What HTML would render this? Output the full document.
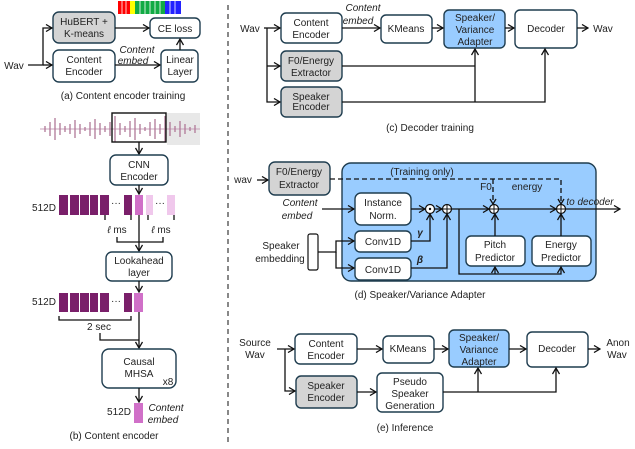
<!DOCTYPE html>
<html><head><meta charset="utf-8"><style>
html,body{margin:0;padding:0;background:#fff;}
svg{display:block;font-family:"Liberation Sans",sans-serif;}
text{font-size:10px;fill:#222;}
.b{fill:#fff;stroke:#1f3d4f;stroke-width:1.4;}
.g{fill:#d4d4d4;stroke:#1f3d4f;stroke-width:1.4;}
.bl{fill:#99ccff;stroke:#1f3d4f;stroke-width:1.4;}
.l{stroke:#111;stroke-width:1.3;fill:none;}
.i{font-style:italic;}
</style></head><body>
<svg width="635" height="449" viewBox="0 0 635 449">
<defs><marker id="a" markerWidth="8" markerHeight="8" refX="7" refY="4" orient="auto" markerUnits="userSpaceOnUse"><path d="M1,0.5 L7,4 L1,7.5" fill="none" stroke="#111" stroke-width="1.3"/></marker></defs>
<g text-anchor="middle">
<!-- (a) -->
<rect x="118" y="1" width="4" height="13" fill="#f00"/><rect x="122" y="1" width="4" height="13" fill="#f00"/><rect x="126" y="1" width="4" height="13" fill="#f00"/>
<rect x="130" y="1" width="5" height="13" fill="#ff0"/>
<rect x="135" y="1" width="30" height="13" fill="#1a4"/>
<rect x="165" y="1" width="16" height="13" fill="#22f"/>
<path d="M122,1V14M126,1V14M140,1V14M145,1V14M150,1V14M155,1V14M160,1V14M170,1V14M175,1V14" stroke="#fff" stroke-width="0.8"/>
<rect class="g" x="53" y="12" width="62" height="31" rx="6"/><text x="84" y="25">HuBERT +</text><text x="84" y="37">K-means</text>
<rect class="b" x="53" y="50" width="62" height="32" rx="6"/><text x="84" y="63">Content</text><text x="84" y="75">Encoder</text>
<rect class="b" x="150" y="18" width="50" height="20" rx="5"/><text x="175" y="32">CE loss</text>
<rect class="b" x="161" y="50" width="37" height="32" rx="5"/><text x="180" y="63">Linear</text><text x="180" y="75">Layer</text>
<text x="14" y="69">Wav</text>
<path class="l" d="M28,65H43V28H52" marker-end="url(#a)"/><path class="l" d="M43,65H52" marker-end="url(#a)"/>
<path class="l" d="M115,28H149" marker-end="url(#a)"/><path class="l" d="M115,65H160" marker-end="url(#a)"/>
<path class="l" d="M180,50V39" marker-end="url(#a)"/>
<text class="i" x="137" y="53">Content</text><text class="i" x="133" y="64">embed</text>
<text x="123" y="99">(a) Content encoder training</text>
<!-- (b) -->
<rect x="167" y="113" width="33" height="32" fill="#e8e8e8"/>
<path d="M40,129H200" stroke="#c8a0b8" stroke-width="1"/>
<g stroke="#b07898" stroke-width="1.3">
<path d="M45,126V132M50,122V136M55,118V140M60,123V135M65,126V132M70,124V134M75,120V138M80,124V134M85,127V131M90,122V136M95,119V139M100,123V135M105,126V132M110,122V136M115,116V142M120,123V135M125,126V132M130,121V137M135,118V140M140,124V134M145,127V131M150,122V136M155,119V139M160,124V134M165,116V142M170,122V136M175,126V132M180,121V137M185,124V134M190,127V131M195,125V133"/>
</g>
<rect x="112" y="113" width="54" height="29" fill="none" stroke="#111" stroke-width="1.4"/>
<path class="l" d="M139,142V154" marker-end="url(#a)"/>
<rect class="b" x="110" y="155" width="58" height="30" rx="6"/><text x="139" y="168">CNN</text><text x="139" y="180">Encoder</text>
<path class="l" d="M139,185V194" marker-end="url(#a)"/>
<text x="44" y="211">512D</text>
<g fill="#7a1f6a"><rect x="59" y="195" width="9" height="20"/><rect x="70" y="195" width="9" height="20"/><rect x="80" y="195" width="9" height="20"/><rect x="90" y="195" width="8" height="20"/><rect x="100" y="195" width="9" height="20"/><rect x="124" y="195" width="8" height="20"/></g>
<rect x="135" y="195" width="8" height="20" fill="#d070c8"/><rect x="146" y="195" width="7" height="20" fill="#f0c8ec"/><rect x="167" y="195" width="8" height="20" fill="#f0c8ec"/>
<text x="116" y="206">···</text><text x="160" y="206">···</text>
<path class="l" d="M105,215V220M131,215V220M148,215V220M174,215V220" stroke-width="1"/>
<text x="117" y="233"><tspan class="i">ℓ</tspan> ms</text><text x="161" y="233"><tspan class="i">ℓ</tspan> ms</text>
<path class="l" d="M117,237V242H163V237" stroke-width="1"/>
<path class="l" d="M139,215V251" marker-end="url(#a)"/>
<rect class="b" x="106" y="252" width="66" height="29" rx="6"/><text x="139" y="264">Lookahead</text><text x="139" y="276">layer</text>
<path class="l" d="M139,281V292" marker-end="url(#a)"/>
<text x="44" y="305">512D</text>
<g fill="#7a1f6a"><rect x="59" y="293" width="9" height="19"/><rect x="70" y="293" width="9" height="19"/><rect x="80" y="293" width="9" height="19"/><rect x="90" y="293" width="8" height="19"/><rect x="100" y="293" width="9" height="19"/><rect x="124" y="293" width="8" height="19"/></g>
<rect x="134" y="293" width="9" height="19" fill="#d070c8"/>
<text x="116" y="304">···</text>
<path class="l" d="M59,316V320H131V316" stroke-width="1"/>
<text x="99" y="330">2 sec</text>
<path class="l" d="M100,333V340H139"/>
<path class="l" d="M139,312V348" marker-end="url(#a)"/>
<rect class="b" x="102" y="349" width="74" height="39" rx="7"/><text x="139" y="365">Causal</text><text x="139" y="377">MHSA</text><text x="168" y="385" font-size="8">x8</text>
<path class="l" d="M139,388V402" marker-end="url(#a)"/>
<rect x="134" y="403" width="9" height="20" fill="#d070c8"/>
<text x="119" y="415">512D</text>
<text class="i" x="166" y="411">Content</text><text class="i" x="163" y="423">embed</text>
<text x="114" y="439">(b) Content encoder</text>
<path d="M228,5V445" stroke="#111" stroke-width="1" stroke-dasharray="5,4"/>
<!-- (c) -->
<text x="250" y="32">Wav</text>
<rect class="b" x="281" y="13" width="61" height="30" rx="5"/><text x="311" y="26">Content</text><text x="311" y="38">Encoder</text>
<rect class="g" x="281" y="51" width="61" height="30" rx="5"/><text x="311" y="64">F0/Energy</text><text x="311" y="76">Extractor</text>
<rect class="g" x="281" y="87" width="61" height="30" rx="5"/><text x="311" y="100">Speaker</text><text x="311" y="110">Encoder</text>
<rect class="b" x="381" y="15" width="51" height="28" rx="5"/><text x="406" y="32">KMeans</text>
<rect class="bl" x="444" y="10" width="61" height="38" rx="5"/><text x="475" y="21">Speaker/</text><text x="475" y="33">Variance</text><text x="475" y="45">Adapter</text>
<rect class="b" x="515" y="10" width="62" height="38" rx="5"/><text x="546" y="32">Decoder</text>
<text x="603" y="32">Wav</text>
<path class="l" d="M264,28H280" marker-end="url(#a)"/><path class="l" d="M267,28V102H280" marker-end="url(#a)"/><path class="l" d="M267,66H280" marker-end="url(#a)"/>
<path class="l" d="M342,28H380" marker-end="url(#a)"/><path class="l" d="M432,28H443" marker-end="url(#a)"/><path class="l" d="M505,28H514" marker-end="url(#a)"/><path class="l" d="M577,28H588" marker-end="url(#a)"/>
<text class="i" x="363" y="11">Content</text><text class="i" x="358" y="24">embed</text>
<path class="l" d="M342,66H475"/><path class="l" d="M342,102H545V49" marker-end="url(#a)"/><path class="l" d="M475,102V49" marker-end="url(#a)"/>
<text x="430" y="131">(c) Decoder training</text>
<!-- (d) -->
<rect x="342" y="163" width="254" height="118" rx="9" fill="#99ccff" stroke="#1f3d4f" stroke-width="1.4"/>
<text x="243" y="183">wav</text><path class="l" d="M257,180H268" marker-end="url(#a)"/>
<rect class="g" x="269" y="162" width="61" height="33" rx="6"/><text x="299" y="175">F0/Energy</text><text x="299" y="188">Extractor</text>
<text x="422" y="175">(Training only)</text>
<path d="M330,179H561V203M493,179V203" stroke="#111" stroke-width="1.3" fill="none" stroke-dasharray="5,3"/>
<path class="l" d="M490,199L493,204L496,199M558,199L561,204L564,199"/>
<text x="486" y="190">F0</text><text x="527" y="190">energy</text>
<text class="i" x="300" y="206">Content</text><text class="i" x="297" y="219">embed</text>
<path class="l" d="M322,209H354" marker-end="url(#a)"/>
<rect class="b" x="355" y="193" width="56" height="32" rx="6"/><text x="383" y="206">Instance</text><text x="383" y="219">Norm.</text>
<path class="l" d="M411,209H425" marker-end="url(#a)"/>
<circle cx="430" cy="209" r="4.5" fill="#fff" stroke="#111" stroke-width="1.2"/><circle cx="430" cy="209" r="1.2" fill="#111"/>
<path class="l" d="M434,209H442" marker-end="url(#a)"/>
<g fill="#fff" stroke="#111" stroke-width="1.2"><circle cx="447" cy="209" r="4.5"/><circle cx="494" cy="209" r="4.5"/><circle cx="561" cy="209" r="4.5"/></g>
<path d="M442.5,209H451.5M447,204.5V213.5M489.5,209H498.5M494,204.5V213.5M556.5,209H565.5M561,204.5V213.5" stroke="#111" stroke-width="1"/>
<path class="l" d="M451,209H489" marker-end="url(#a)"/><path class="l" d="M498,209H556" marker-end="url(#a)"/><path class="l" d="M565,209H620" marker-end="url(#a)"/>
<text class="i" x="590" y="205">to decoder</text>
<rect class="b" x="355" y="231" width="56" height="21" rx="5"/><text x="383" y="245">Conv1D</text>
<rect class="b" x="355" y="258" width="56" height="22" rx="5"/><text x="383" y="273">Conv1D</text>
<text x="420" y="236" class="i" font-weight="bold">γ</text><text x="420" y="263" class="i" font-weight="bold">β</text>
<path class="l" d="M411,241H430V214" marker-end="url(#a)"/><path class="l" d="M411,268H447V214" marker-end="url(#a)"/>
<rect x="308" y="234" width="10" height="36" rx="2" fill="#fff" stroke="#111" stroke-width="1.2"/>
<text x="281" y="249">Speaker</text><text x="280" y="262">embedding</text>
<path class="l" d="M318,252H336V241H354" marker-end="url(#a)"/><path class="l" d="M336,252V268H354" marker-end="url(#a)"/>
<rect class="b" x="466" y="236" width="59" height="30" rx="5"/><text x="495" y="248">Pitch</text><text x="495" y="261">Predictor</text>
<rect class="b" x="532" y="236" width="59" height="30" rx="5"/><text x="561" y="248">Energy</text><text x="561" y="261">Predictor</text>
<path class="l" d="M459,209V274H561V267" marker-end="url(#a)"/><path class="l" d="M495,274V267" marker-end="url(#a)"/>
<path class="l" d="M495,236V214" marker-end="url(#a)"/><path class="l" d="M561,236V214" marker-end="url(#a)"/>
<text x="420" y="298">(d) Speaker/Variance Adapter</text>
<!-- (e) -->
<text x="255" y="346">Source</text><text x="255" y="358">Wav</text>
<rect class="b" x="295" y="334" width="62" height="30" rx="5"/><text x="326" y="347">Content</text><text x="326" y="359">Encoder</text>
<rect class="g" x="296" y="376" width="61" height="32" rx="5"/><text x="326" y="389">Speaker</text><text x="326" y="401">Encoder</text>
<rect class="b" x="383" y="336" width="51" height="27" rx="5"/><text x="408" y="352">KMeans</text>
<rect class="bl" x="449" y="330" width="60" height="37" rx="5"/><text x="479" y="341">Speaker/</text><text x="479" y="353">Variance</text><text x="479" y="365">Adapter</text>
<rect class="b" x="527" y="332" width="61" height="35" rx="5"/><text x="557" y="352">Decoder</text>
<text x="618" y="346">Anon</text><text x="617" y="358">Wav</text>
<rect class="b" x="377" y="373" width="66" height="39" rx="5"/><text x="410" y="385">Pseudo</text><text x="410" y="397">Speaker</text><text x="410" y="409">Generation</text>
<path class="l" d="M277,349H294" marker-end="url(#a)"/><path class="l" d="M285,349V391H295" marker-end="url(#a)"/>
<path class="l" d="M357,349H382" marker-end="url(#a)"/><path class="l" d="M434,349H448" marker-end="url(#a)"/><path class="l" d="M509,349H526" marker-end="url(#a)"/><path class="l" d="M588,349H600" marker-end="url(#a)"/>
<path class="l" d="M357,392H376" marker-end="url(#a)"/>
<path class="l" d="M443,392H556V368" marker-end="url(#a)"/><path class="l" d="M478,392V368" marker-end="url(#a)"/>
<text x="405" y="431">(e) Inference</text>
</g>
</svg>
</body></html>
